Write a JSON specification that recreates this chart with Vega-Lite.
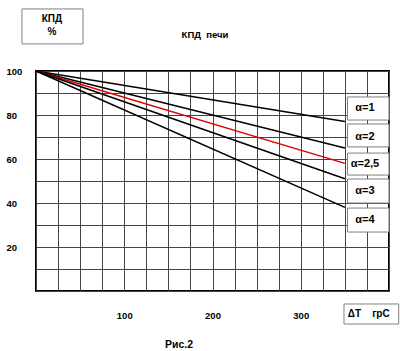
{
  "$schema": "https://vega.github.io/schema/vega-lite/v6.json",
  "autosize": "none",
  "width": 353,
  "height": 220,
  "padding": {"left": 36, "top": 71, "right": 11, "bottom": 60},
  "background": "white",
  "config": {
    "view": {"stroke": "black", "strokeWidth": 2},
    "font": "Liberation Sans",
    "axis": {
      "domain": false,
      "ticks": false,
      "grid": true,
      "gridColor": "#444444",
      "gridWidth": 1,
      "gridOpacity": 1,
      "labelFont": "Liberation Sans",
      "labelFontWeight": "bold",
      "labelFontSize": 9.5,
      "labelColor": "black"
    }
  },
  "datasets": {
    "lines": [
      {"x": 0, "y": 100, "s": "a1"}, {"x": 350, "y": 77, "s": "a1"},
      {"x": 0, "y": 100, "s": "a2"}, {"x": 350, "y": 65, "s": "a2"},
      {"x": 0, "y": 100, "s": "a25"}, {"x": 350, "y": 58, "s": "a25"},
      {"x": 0, "y": 100, "s": "a3"}, {"x": 350, "y": 51, "s": "a3"},
      {"x": 0, "y": 100, "s": "a4"}, {"x": 350, "y": 38, "s": "a4"}
    ],
    "boxes": [
      {"x": 353, "x2": 400, "y": 88.2, "y2": 77.7},
      {"x": 353, "x2": 400, "y": 75.9, "y2": 65.5},
      {"x": 353, "x2": 400, "y": 62.7, "y2": 52.7},
      {"x": 353, "x2": 400, "y": 50.9, "y2": 40},
      {"x": 353, "x2": 400, "y": 37.7, "y2": 26.8},
      {"x": -15.9, "x2": 53.3, "y": 128.2, "y2": 112.3},
      {"x": 349, "x2": 411, "y": -5.9, "y2": -15}
    ],
    "labels": [
      {"x": 372.8, "y": 83, "t": "α=1", "size": 11},
      {"x": 372.8, "y": 70.2, "t": "α=2", "size": 11},
      {"x": 372.8, "y": 57.7, "t": "α=2,5", "size": 11},
      {"x": 372.8, "y": 45.5, "t": "α=3", "size": 11},
      {"x": 372.8, "y": 32.3, "t": "α=4", "size": 11},
      {"x": 18.1, "y": 123.6, "t": "КПД", "size": 10},
      {"x": 18.1, "y": 117.7, "t": "%", "size": 10},
      {"x": 191.5, "y": 116.4, "t": "КПД\u00a0\u00a0печи", "size": 9.5},
      {"x": 377, "y": -10.5, "t": "ΔT\u00a0\u00a0\u00a0\u00a0грС", "size": 10},
      {"x": 162, "y": -24.5, "t": "Рис.2", "size": 10.5}
    ]
  },
  "encoding": {
    "x": {
      "field": "x", "type": "quantitative",
      "scale": {"domain": [0, 400], "nice": false, "zero": false},
      "axis": {
        "title": null,
        "values": [0, 25, 50, 75, 100, 125, 150, 175, 200, 225, 250, 275, 300, 325, 350, 375, 400],
        "labelExpr": "(datum.value == 100 || datum.value == 200 || datum.value == 300) ? datum.label : ''",
        "labelPadding": 24,
        "labelBaseline": "middle",
        "labelFlush": false,
        "labelOverlap": false
      }
    },
    "y": {
      "field": "y", "type": "quantitative",
      "scale": {"domain": [0, 100], "nice": false, "zero": false},
      "axis": {
        "title": null,
        "values": [0, 10, 20, 30, 40, 50, 60, 70, 80, 90, 100],
        "labelExpr": "(datum.value % 20 == 0 && datum.value > 0) ? datum.label : ''",
        "labelAlign": "left",
        "labelPadding": 30,
        "labelBaseline": "middle",
        "labelFlush": false,
        "labelOverlap": false
      }
    }
  },
  "layer": [
    {
      "data": {"name": "lines"},
      "mark": {"type": "line", "strokeWidth": 1.5},
      "encoding": {
        "color": {
          "field": "s", "type": "nominal",
          "scale": {"domain": ["a1", "a2", "a25", "a3", "a4"], "range": ["black", "black", "#e00000", "black", "black"]},
          "legend": null
        }
      }
    },
    {
      "data": {"name": "boxes"},
      "mark": {"type": "rect", "fill": "white", "stroke": "#808080", "strokeWidth": 1, "clip": false},
      "encoding": {
        "x2": {"field": "x2"},
        "y2": {"field": "y2"}
      }
    },
    {
      "data": {"name": "labels"},
      "mark": {"type": "text", "fontWeight": "bold", "font": "Liberation Sans", "color": "black", "align": "center", "baseline": "middle", "clip": false},
      "encoding": {
        "text": {"field": "t"},
        "size": {"field": "size", "type": "quantitative", "scale": null, "legend": null}
      }
    }
  ]
}
